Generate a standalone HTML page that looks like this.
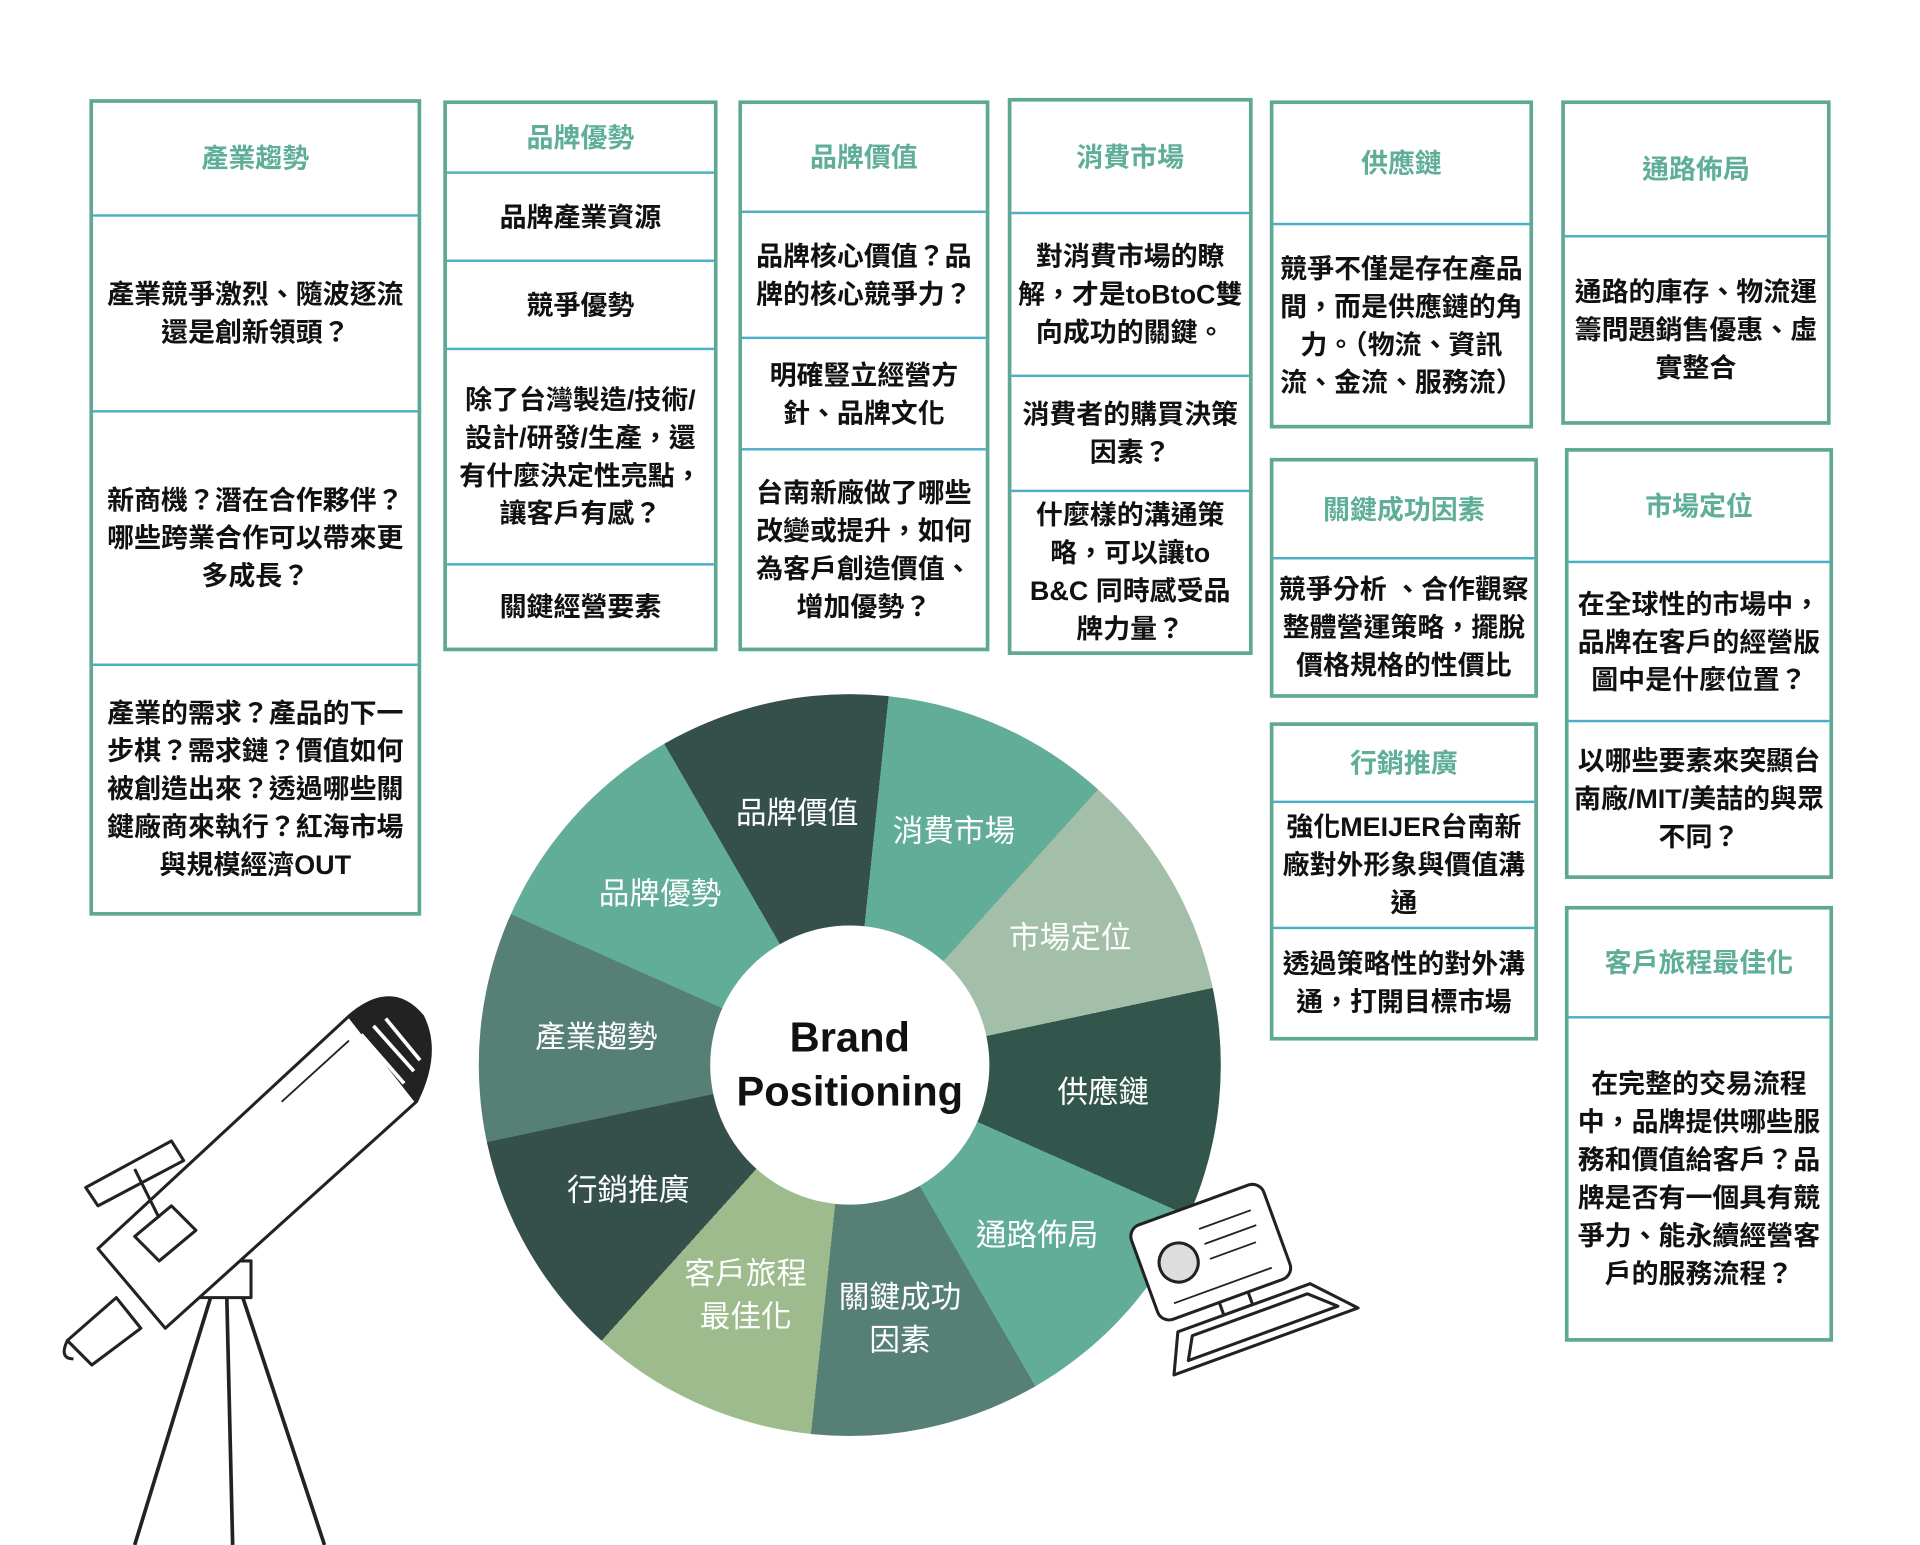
<!DOCTYPE html>
<html><head><meta charset="utf-8"><style>
html,body{margin:0;padding:0;background:#fff;width:1920px;height:1545px;overflow:hidden}
#s{position:absolute;left:0;top:0;width:1568px;height:1262px;transform:scale(1.22449,1.2242);transform-origin:0 0;font-family:"Liberation Sans","Noto Sans CJK TC",sans-serif}
.b{position:absolute;border:3px solid #5fa894;box-sizing:border-box;display:flex;flex-direction:column;background:#fff}
.c{display:flex;align-items:center;justify-content:center;text-align:center;font-weight:bold;font-size:22px;line-height:31px;color:#111;border-top:2px solid #4aaec6;box-sizing:border-box;flex:none;white-space:nowrap}
.c:first-child{border-top:none;color:#5fae98}
.w{position:absolute;left:391px;top:567px;width:606px;height:606px;border-radius:50%;background:conic-gradient(#35504b 0 6deg,#62ad98 6deg 42deg,#a3bfaa 42deg 78deg,#32564c 78deg 114deg,#62ad98 114deg 150deg,#567f76 150deg 186deg,#9dbb8c 186deg 222deg,#35504b 222deg 258deg,#567f76 258deg 294deg,#62ad98 294deg 330deg,#35504b 330deg 360deg)}
.in{position:absolute;left:580px;top:756px;width:228px;height:228px;border-radius:50%;background:#fff;display:flex;align-items:center;justify-content:center;text-align:center;font-weight:bold;font-size:34px;line-height:44px;color:#111}
.l{position:absolute;color:#fff;font-size:25px;line-height:35px;text-align:center;transform:translate(-50%,-50%);white-space:nowrap}
</style></head><body><div id="s">

<div class="b" style="left:73px;top:81px;width:271px;height:667px">
<div class="c" style="height:91px">產業趨勢</div>
<div class="c" style="height:160px">產業競爭激烈、隨波逐流<br>還是創新領頭？</div>
<div class="c" style="height:207px">新商機？潛在合作夥伴？<br>哪些跨業合作可以帶來更<br>多成長？</div>
<div class="c" style="flex:1">產業的需求？產品的下一<br>步棋？需求鏈？價值如何<br>被創造出來？透過哪些關<br>鍵廠商來執行？紅海市場<br>與規模經濟OUT</div>
</div>

<div class="b" style="left:362px;top:82px;width:224px;height:450px">
<div class="c" style="height:55px">品牌優勢</div>
<div class="c" style="height:72px">品牌產業資源</div>
<div class="c" style="height:72px">競爭優勢</div>
<div class="c" style="height:176px">除了台灣製造/技術/<br>設計/研發/生產，還<br>有什麼決定性亮點，<br>讓客戶有感？</div>
<div class="c" style="flex:1">關鍵經營要素</div>
</div>

<div class="b" style="left:603px;top:82px;width:205px;height:450px">
<div class="c" style="height:87px">品牌價值</div>
<div class="c" style="height:103px">品牌核心價值？品<br>牌的核心競爭力？</div>
<div class="c" style="height:91px">明確豎立經營方<br>針、品牌文化</div>
<div class="c" style="flex:1">台南新廠做了哪些<br>改變或提升，如何<br>為客戶創造價值、<br>增加優勢？</div>
</div>

<div class="b" style="left:823px;top:80px;width:200px;height:455px">
<div class="c" style="height:90px">消費市場</div>
<div class="c" style="height:133px">對消費市場的瞭<br>解，才是toBtoC雙<br>向成功的關鍵。</div>
<div class="c" style="height:94px">消費者的購買決策<br>因素？</div>
<div class="c" style="flex:1">什麼樣的溝通策<br>略，可以讓to<br>B&amp;C 同時感受品<br>牌力量？</div>
</div>

<div class="b" style="left:1037px;top:82px;width:215px;height:268px">
<div class="c" style="height:97px">供應鏈</div>
<div class="c" style="flex:1">競爭不僅是存在產品<br>間，而是供應鏈的角<br>力。（物流、資訊<br>流、金流、服務流）</div>
</div>

<div class="b" style="left:1275px;top:82px;width:220px;height:265px">
<div class="c" style="height:107px">通路佈局</div>
<div class="c" style="flex:1">通路的庫存、物流運<br>籌問題銷售優惠、虛<br>實整合</div>
</div>

<div class="b" style="left:1037px;top:374px;width:219px;height:196px">
<div class="c" style="height:78px">關鍵成功因素</div>
<div class="c" style="flex:1">競爭分析 、合作觀察<br>整體營運策略，擺脫<br>價格規格的性價比</div>
</div>

<div class="b" style="left:1278px;top:366px;width:219px;height:352px">
<div class="c" style="height:89px">市場定位</div>
<div class="c" style="height:130px">在全球性的市場中，<br>品牌在客戶的經營版<br>圖中是什麼位置？</div>
<div class="c" style="flex:1">以哪些要素來突顯台<br>南廠/MIT/美喆的與眾<br>不同？</div>
</div>

<div class="b" style="left:1037px;top:590px;width:219px;height:260px">
<div class="c" style="height:61px">行銷推廣</div>
<div class="c" style="height:103px">強化MEIJER台南新<br>廠對外形象與價值溝<br>通</div>
<div class="c" style="flex:1">透過策略性的對外溝<br>通，打開目標市場</div>
</div>

<div class="b" style="left:1278px;top:740px;width:219px;height:356px">
<div class="c" style="height:87px">客戶旅程最佳化</div>
<div class="c" style="flex:1">在完整的交易流程<br>中，品牌提供哪些服<br>務和價值給客戶？品<br>牌是否有一個具有競<br>爭力、能永續經營客<br>戶的服務流程？</div>
</div>

<div class="w"></div>
<div class="in">Brand<br>Positioning</div>
<div class="l" style="left:651px;top:665px">品牌價值</div>
<div class="l" style="left:779px;top:680px">消費市場</div>
<div class="l" style="left:874px;top:767px">市場定位</div>
<div class="l" style="left:901px;top:893px">供應鏈</div>
<div class="l" style="left:847px;top:1010px">通路佈局</div>
<div class="l" style="left:735px;top:1078px">關鍵成功<br>因素</div>
<div class="l" style="left:609px;top:1059px">客戶旅程<br>最佳化</div>
<div class="l" style="left:513px;top:973px">行銷推廣</div>
<div class="l" style="left:487px;top:848px">產業趨勢</div>
<div class="l" style="left:539px;top:731px">品牌優勢</div>

<svg style="position:absolute;left:0;top:0" width="1568" height="1262" viewBox="0 0 1568 1262" fill="none" stroke="#222" stroke-width="2.5" stroke-linejoin="round">
<g>
<path d="M175 1050 L110 1262 M185 1050 L190 1262 M195 1050 L265 1262" stroke-width="3"/>
<path d="M160 1030 L205 1030 L205 1060 L160 1060 Z" fill="#fff"/>
<path d="M80 1020 L285 830 L340 900 L135 1085 Z" fill="#fff"/>
<path d="M285 830 Q320 800 345 830 Q360 860 340 900" fill="#222"/>
<path d="M295 845 L330 885 M305 838 L338 875 M315 832 L343 866" stroke="#fff" stroke-width="3"/>
<path d="M55 1095 L95 1060 L115 1085 L75 1115 Z M55 1095 Q48 1110 60 1110" fill="#fff"/>
<path d="M110 1010 L140 985 L160 1005 L130 1030 Z" fill="#fff"/>
<path d="M70 970 L140 932 L150 948 L80 985 Z" fill="#fff"/>
<path d="M110 955 L130 995" />
<path d="M230 900 L285 850" stroke-width="1.5"/>
</g>
<g transform="rotate(-20 1010 1030)">
<rect x="935" y="975" width="115" height="82" rx="10" fill="#fff"/>
<circle cx="965" cy="1015" r="16" fill="#ddd"/>
<path d="M990 995 L1035 995 M990 1008 L1035 1008 M990 1021 L1030 1021 M950 1045 L1035 1045" stroke-width="1.5"/>
<path d="M985 1057 L985 1068 L1010 1068 L1010 1057"/>
<path d="M945 1068 L1060 1068 L1090 1100 L930 1100 Z" fill="#fff"/>
<path d="M955 1075 L1055 1075 L1075 1093 L945 1093 Z"/>
</g>
</svg>
</div></body></html>
